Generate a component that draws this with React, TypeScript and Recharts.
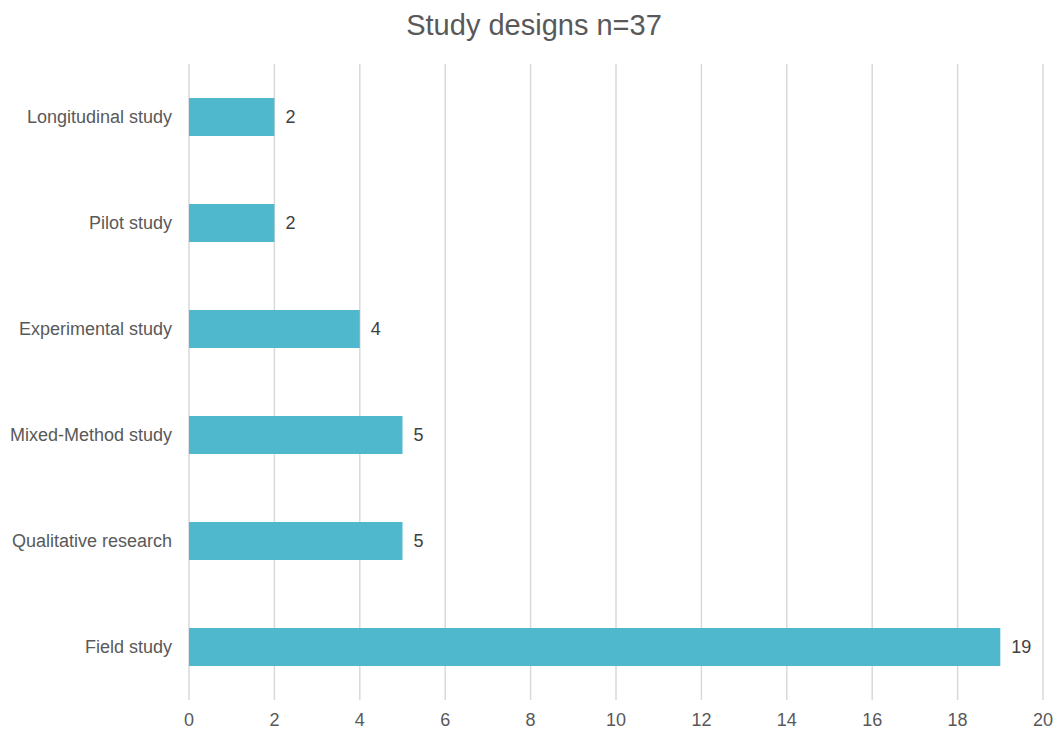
import { BarChart, Bar, XAxis, YAxis, CartesianGrid, LabelList } from 'recharts';

const designs = [
  'Longitudinal study',
  'Pilot study',
  'Experimental study',
  'Mixed-Method study',
  'Qualitative research',
  'Field study',
];
const counts = [2, 2, 4, 5, 5, 19];
const xTicks = [0, 2, 4, 6, 8, 10, 12, 14, 16, 18, 20];

const data = designs.map((design, i) => ({ design, count: counts[i] }));

const font = '"Liberation Sans", Arial, sans-serif';

export default function App() {
  return (
    <div style={{ position: 'absolute', left: 0, top: 0, width: 1054, height: 729, background: '#fff', fontFamily: font }}>
      {/* Title */}
      <div
        style={{
          position: 'absolute',
          top: 9,
          left: 0,
          width: 1068,
          textAlign: 'center',
          fontSize: 29,
          lineHeight: 'normal',
          color: '#595959',
        }}
      >
        Study designs n=37
      </div>

      <BarChart
        width={1054}
        height={729}
        data={data}
        layout="vertical"
        margin={{ top: 64, right: 11, bottom: 0, left: 0 }}
      >
        <CartesianGrid horizontal={false} stroke="#d9d9d9" strokeWidth={1.5} />
        <XAxis
          type="number"
          domain={[0, 20]}
          ticks={xTicks}
          interval={0}
          axisLine={false}
          tickLine={false}
          tickSize={0}
          tickMargin={13}
          height={29}
          tick={{ fontSize: 18, fill: '#595959', fontFamily: font }}
        />
        <YAxis
          type="category"
          dataKey="design"
          width={189}
          axisLine={false}
          tickLine={false}
          tickSize={0}
          tickMargin={17}
          tick={{ fontSize: 18, fill: '#595959', fontFamily: font }}
        />
        <Bar dataKey="count" fill="#4fb8cd" barSize={38} isAnimationActive={false}>
          <LabelList
            dataKey="count"
            position="right"
            offset={11}
            style={{ fontSize: 18, fill: '#404040', fontFamily: font }}
          />
        </Bar>
      </BarChart>
    </div>
  );
}
